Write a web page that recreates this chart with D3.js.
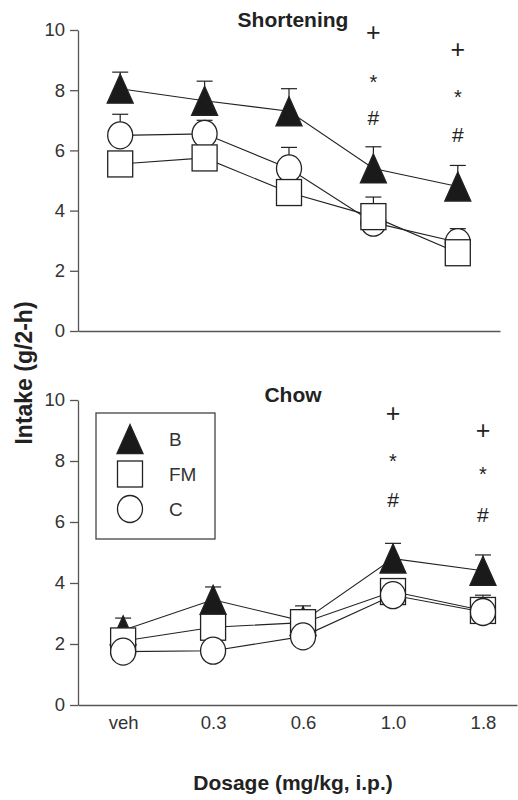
<!DOCTYPE html>
<html>
<head>
<meta charset="utf-8">
<script src="https://cdn.jsdelivr.net/npm/d3@7"></script>
<style>
  body { margin: 0; background: #fff; }
  svg { display: block; font-family: "Liberation Sans", Arial, sans-serif; }
  .axis path, .axis line { stroke: #555; stroke-width: 1.3; }
  .axis text { fill: #333; font-size: 18.5px; font-family: "Liberation Sans", Arial, sans-serif; }
  .mark { stroke: #222; stroke-width: 1.3; }
  .conn { fill: none; stroke: #222; stroke-width: 1.1; }
  .err { stroke: #222; stroke-width: 1.2; }
</style>
</head>
<body>
<div id="chart"></div>
<script>
// dose groups
const doses = ["veh", "0.3", "0.6", "1.0", "1.8"];
const yTicks = [0, 2, 4, 6, 8, 10];

// shortening intake (g/2-h) and upper SE
const shortB = [8.05, 7.65, 7.3, 5.4, 4.8];
const shortBErr = [0.55, 0.65, 0.75, 0.72, 0.7];
const shortFM = [5.55, 5.75, 4.6, 3.8, 2.6];
const shortFMErr = [0.4, 0.3, 0.3, 0.65, 0.3];
const shortC = [6.5, 6.55, 5.4, 3.6, 2.95];
const shortCErr = [0.7, 0.45, 0.7, 0.4, 0.45];

// chow intake (g/2-h) and upper SE
const chowB = [2.45, 3.45, 2.75, 4.8, 4.4];
const chowBErr = [0.4, 0.42, 0.5, 0.5, 0.52];
const chowFM = [2.1, 2.55, 2.7, 3.72, 3.1];
const chowFMErr = [0.3, 0.3, 0.3, 0.35, 0.5];
const chowC = [1.75, 1.78, 2.25, 3.6, 3.05];
const chowCErr = [0.3, 0.3, 0.3, 0.3, 0.3];

// significance symbols: dose, symbol, y value
const shortSig = [["1.0", "+", 9.9], ["1.0", "*", 8.45], ["1.0", "#", 7.1],
                  ["1.8", "+", 9.35], ["1.8", "*", 7.95], ["1.8", "#", 6.55]];
const chowSig = [["1.0", "+", 9.55], ["1.0", "*", 8.15], ["1.0", "#", 6.75],
                 ["1.8", "+", 9.0], ["1.8", "*", 7.75], ["1.8", "#", 6.25]];

const groups = ["B", "FM", "C"];

const W = 518, H = 800;
const svg = d3.select("#chart").append("svg")
    .attr("width", W).attr("height", H);

function symbol(sel, kind, x, y) {
    if (kind === "B") {
        sel.append("path").attr("class", "mark")
            .attr("d", "M" + x + "," + (y - 14.5) + "L" + (x + 13) + "," + (y + 14.5) +
                       "L" + (x - 13) + "," + (y + 14.5) + "Z")
            .attr("fill", "#1a1a1a");
    } else if (kind === "FM") {
        sel.append("rect").attr("class", "mark")
            .attr("x", x - 12.5).attr("y", y - 13).attr("width", 25).attr("height", 26)
            .attr("fill", "#fff");
    } else {
        sel.append("ellipse").attr("class", "mark")
            .attr("cx", x).attr("cy", y).attr("rx", 12.5).attr("ry", 13.5)
            .attr("fill", "#fff");
    }
}

function panel(opt) {
    let g = svg.append("g");
    let x = d3.scalePoint().domain(doses).range(opt.xRange)
            .padding(opt.pad).align(opt.align);
    let y = d3.scaleLinear().domain([0, 10]).range(opt.yRange);

    g.append("g").attr("class", "axis")
        .attr("transform", "translate(" + opt.xRange[0] + ",0)")
        .call(d3.axisLeft(y).tickValues(yTicks).tickSize(8).tickSizeOuter(0).tickPadding(5));

    let xa = g.append("g").attr("class", "axis")
        .attr("transform", "translate(0," + opt.yRange[0] + ")")
        .call(d3.axisBottom(x).tickSize(0).tickSizeOuter(0).tickPadding(11));
    if (!opt.labels) xa.selectAll("text").remove();

    g.append("text")
        .attr("x", 293).attr("y", opt.titleY)
        .attr("text-anchor", "middle")
        .style("font-weight", "bold").style("font-size", "21px").style("fill", "#222")
        .text(opt.title);

    let line = d3.line()
        .x((d, i) => x(doses[i]))
        .y(d => y(d));

    // connecting lines
    opt.series.forEach(s => {
        g.append("path").attr("class", "conn").attr("d", line(s.values));
    });

    // error bars then markers, in drawing order
    opt.series.forEach(s => {
        s.values.forEach((v, i) => {
            let cx = x(doses[i]), top = y(v + s.err[i]);
            g.append("line").attr("class", "err")
                .attr("x1", cx).attr("x2", cx).attr("y1", y(v)).attr("y2", top);
            g.append("line").attr("class", "err")
                .attr("x1", cx - 8).attr("x2", cx + 8).attr("y1", top).attr("y2", top);
        });
    });
    opt.order.forEach(k => {
        let s = opt.series.find(d => d.key === k);
        s.values.forEach((v, i) => symbol(g, k, x(doses[i]), y(v)));
    });

    g.selectAll(".sig").data(opt.sig).enter().append("text")
        .attr("class", "sig")
        .attr("x", d => x(d[0]))
        .attr("y", d => y(d[2]) + (d[1] === "*" ? 12 : 8))
        .attr("text-anchor", "middle")
        .style("font-size", d => d[1] === "+" ? "25px" : (d[1] === "*" ? "20px" : "21px"))
        .style("fill", "#222")
        .text(d => d[1]);
    return g;
}

panel({
    title: "Shortening", titleY: 27,
    xRange: [78, 500], pad: 0.5, align: 0.5,
    yRange: [331, 30], labels: false,
    series: [
        { key: "B", values: shortB, err: shortBErr },
        { key: "FM", values: shortFM, err: shortFMErr },
        { key: "C", values: shortC, err: shortCErr }
    ],
    order: ["B", "C", "FM"],
    sig: shortSig
});

panel({
    title: "Chow", titleY: 402,
    xRange: [78, 517], pad: 0.44, align: 0.57,
    yRange: [705, 400], labels: true,
    series: [
        { key: "B", values: chowB, err: chowBErr },
        { key: "FM", values: chowFM, err: chowFMErr },
        { key: "C", values: chowC, err: chowCErr }
    ],
    order: ["B", "FM", "C"],
    sig: chowSig
});

// legend
let lg = svg.append("g");
lg.append("rect").attr("x", 96).attr("y", 413).attr("width", 119).attr("height", 126)
    .attr("fill", "none").attr("stroke", "#444").attr("stroke-width", 1.3);
groups.forEach((k, i) => {
    let cy = 439 + i * 35;
    symbol(lg, k, 130, cy);
    lg.append("text").attr("x", 169).attr("y", cy + 7)
        .style("font-size", "19px").style("fill", "#333").text(k);
});

// axis titles
svg.append("text")
    .attr("transform", "translate(32,373) rotate(-90)")
    .attr("text-anchor", "middle")
    .style("font-weight", "bold").style("font-size", "23px").style("fill", "#222")
    .text("Intake (g/2-h)");
svg.append("text")
    .attr("x", 293).attr("y", 790)
    .attr("text-anchor", "middle")
    .style("font-weight", "bold").style("font-size", "21px").style("fill", "#222")
    .text("Dosage (mg/kg, i.p.)");
</script>
</body>
</html>
